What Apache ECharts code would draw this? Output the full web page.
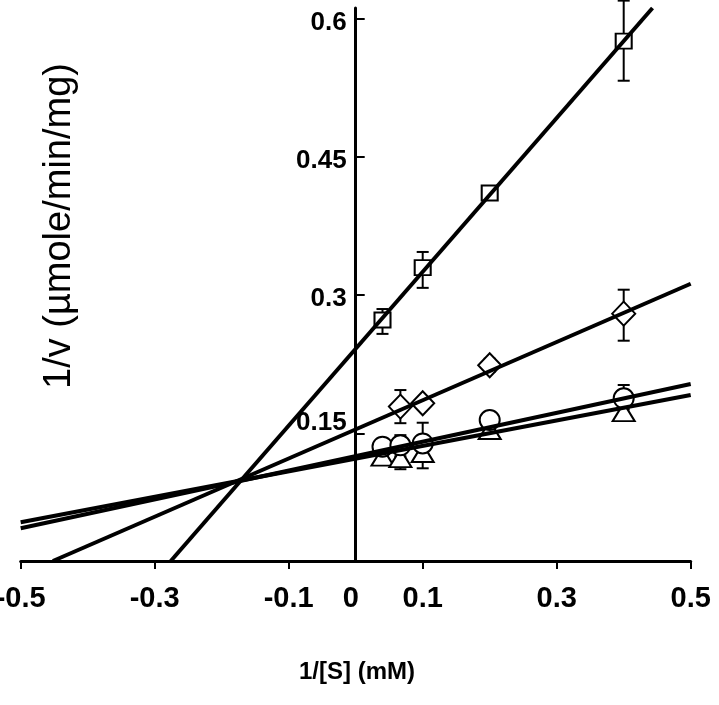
<!DOCTYPE html>
<html><head><meta charset="utf-8">
<script src="https://cdn.jsdelivr.net/npm/echarts@6/dist/echarts.min.js"></script>
<style>html,body{margin:0;padding:0;background:#fff}#c{width:719px;height:705px}</style>
</head><body><div id="c"></div>
<script>
// ---- data ----
const xTickValues = [-0.5, -0.3, -0.1, 0.1, 0.3, 0.5];
const xLabelValues = [-0.5, -0.3, -0.1, 0, 0.1, 0.3, 0.5];
const yTickValues = [0.15, 0.3, 0.45, 0.6];

const squareX = [0.04, 0.1, 0.2, 0.4];
const squareY = [0.273, 0.330, 0.411, 0.576];
const squareLo = [0.258, 0.308, 0.404, 0.533];
const squareHi = [0.285, 0.347, 0.418, 0.620];

const diamondX = [0.0667, 0.1, 0.2, 0.4];
const diamondY = [0.179, 0.1826, 0.224, 0.280];
const diamondLo = [0.161, 0.1826, 0.217, 0.2506];
const diamondHi = [0.197, 0.1826, 0.231, 0.306];

const circleX = [0.04, 0.0667, 0.1, 0.2, 0.4];
const circleY = [0.1355, 0.137, 0.139, 0.1644, 0.188];
const circleLo = [0.129, 0.125, 0.125, 0.158, 0.176];
const circleHi = [0.142, 0.148, 0.1615, 0.171, 0.2025];

const triangleX = [0.04, 0.0667, 0.1, 0.2, 0.4];
const triangleY = [0.1246, 0.123, 0.1286, 0.1536, 0.173];
const triangleLo = [0.119, 0.111, 0.112, 0.1463, 0.168];
const triangleHi = [0.130, 0.130, 0.135, 0.160, 0.178];

// fitted lines: where each line enters and leaves the plot
const squareLine = [[-0.276, 0.0113], [0.443, 0.612]];
const diamondLine = [[-0.452, 0.0113], [0.5, 0.3125]];
const circleLine = [[-0.5, 0.0468], [0.5, 0.2035]];
const triangleLine = [[-0.5, 0.0533], [0.5, 0.1916]];

const xMin = -0.5, xMax = 0.5;
const yMin = 0.0113, yMax = 0.612;

// ---- build ----
const zip = (xs, ys) => xs.map((x, i) => [x, ys[i]]);
const zip3 = (xs, lo, hi) => xs.map((x, i) => [x, lo[i], hi[i]]);
const FONT = 'Liberation Sans, Arial, sans-serif';

const GRID_LEFT = 20.7, GRID_RIGHT = 28.3;
const plotW = 719 - GRID_LEFT - GRID_RIGHT;
const yAxisOffset = -plotW * (0 - xMin) / (xMax - xMin);

function errRender(params, api) {
  const x = api.value(0), lo = api.value(1), hi = api.value(2);
  const a = api.coord([x, hi]), b = api.coord([x, lo]);
  const w = 6;
  const st = { stroke: '#000', lineWidth: 2 };
  return { type: 'group', children: [
    { type: 'line', shape: { x1: a[0], y1: a[1], x2: b[0], y2: b[1] }, style: st },
    { type: 'line', shape: { x1: a[0] - w, y1: a[1], x2: a[0] + w, y2: a[1] }, style: st },
    { type: 'line', shape: { x1: b[0] - w, y1: b[1], x2: b[0] + w, y2: b[1] }, style: st }
  ]};
}
function errSeries(xs, lo, hi) {
  return { type: 'custom', renderItem: errRender, data: zip3(xs, lo, hi),
    encode: { x: 0, y: [1, 2] }, clip: false, z: 2, silent: true };
}
function markSeries(xs, ys, symbol, size) {
  return { type: 'scatter', data: zip(xs, ys), symbol: symbol, symbolSize: size,
    itemStyle: { color: '#fff', borderColor: '#000', borderWidth: 2, opacity: 1 },
    z: 3, silent: true, clip: false };
}
function lineSeries(pts) {
  return { type: 'line', data: pts, showSymbol: false, symbol: 'none',
    lineStyle: { color: '#000', width: 4 }, z: 5, silent: true, clip: true };
}

const xLabelRich = {
  n: { fontFamily: FONT, fontWeight: 'bold', fontSize: 29, color: '#000' },
  z: { fontFamily: FONT, fontWeight: 'bold', fontSize: 29, color: '#000', padding: [0, 10, 0, 0] }
};
const yLabelRich = {
  n: { fontFamily: FONT, fontWeight: 'bold', fontSize: 26, color: '#000', padding: [8, 0, 0, 0] },
  u: { fontFamily: FONT, fontWeight: 'bold', fontSize: 26, color: '#000', padding: [0, 0, 20, 0] }
};

const chart = echarts.init(document.getElementById('c'), null, { renderer: 'canvas' });
chart.setOption({
  animation: false,
  backgroundColor: '#fff',
  grid: { left: GRID_LEFT, right: GRID_RIGHT, top: 8, bottom: 144, containLabel: false, outerBoundsMode: 'none' },
  xAxis: {
    type: 'value', min: xMin, max: xMax,
    axisLine: { onZero: false, lineStyle: { color: '#000', width: 3 } },
    splitLine: { show: false },
    axisTick: { customValues: xTickValues, length: 8, lineStyle: { color: '#000', width: 2 } },
    axisLabel: { customValues: xLabelValues, color: '#000', fontFamily: FONT, fontWeight: 'bold',
      fontSize: 29, margin: 23, rich: xLabelRich,
      formatter: v => { const s = String(Math.round(v * 10) / 10); return Math.abs(v) < 1e-9 ? '{z|' + s + '}' : '{n|' + s + '}'; } }
  },
  yAxis: {
    type: 'value', min: yMin, max: yMax, position: 'left', offset: yAxisOffset,
    axisLine: { onZero: false, lineStyle: { color: '#000', width: 3 } },
    splitLine: { show: false },
    axisTick: { customValues: yTickValues, inside: true, length: 9, lineStyle: { color: '#000', width: 2 } },
    axisLabel: { customValues: yTickValues, color: '#000', fontFamily: FONT, fontWeight: 'bold',
      fontSize: 26, margin: 9, rich: yLabelRich,
      formatter: v => { const s = String(Math.round(v * 100) / 100); return Math.abs(v - 0.15) < 1e-9 ? '{u|' + s + '}' : '{n|' + s + '}'; } }
  },
  graphic: [
    { type: 'text', x: 357, y: 672, style: { text: '1/[S] (mM)', font: 'bold 24px ' + FONT, fill: '#000', align: 'center', verticalAlign: 'middle' } },
    { type: 'text', x: 60, y: 226, rotation: Math.PI / 2,
      style: { text: '1/v (\u00b5mole/min/mg)', font: '38px ' + FONT, fill: '#000', align: 'center', verticalAlign: 'middle' } }
  ],
  series: [
    errSeries(squareX, squareLo, squareHi),
    errSeries(diamondX, diamondLo, diamondHi),
    errSeries(triangleX, triangleLo, triangleHi),
    errSeries(circleX, circleLo, circleHi),
    markSeries(squareX, squareY, 'rect', [16, 15]),
    markSeries(diamondX, diamondY, 'diamond', [23, 24]),
    markSeries(triangleX, triangleY, 'triangle', [22, 18]),
    markSeries(circleX, circleY, 'circle', 20),
    lineSeries(squareLine),
    lineSeries(diamondLine),
    lineSeries(circleLine),
    lineSeries(triangleLine)
  ]
});
</script></body></html>
